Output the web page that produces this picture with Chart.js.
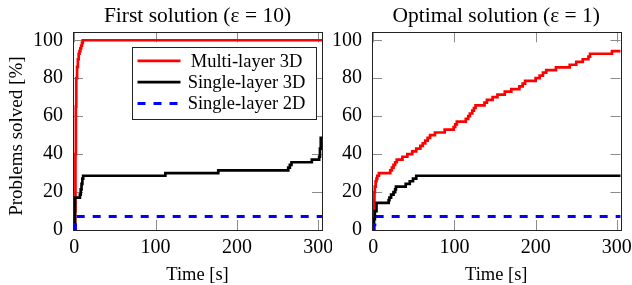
<!DOCTYPE html>
<html lang="en">
<head>
  <meta charset="UTF-8" />
  <title>Problems solved over time</title>
  <script src="https://cdn.jsdelivr.net/npm/chart.js"></script>
  <style>
    body {
      margin: 0;
      background: #fff;
    }
    .wrap {
      position: relative;
      width: 632px;
      height: 285px;
    }
    #chart-first {
      position: absolute;
      left: 0;
      top: 0;
    }
    #chart-optimal {
      position: absolute;
      left: 332px;
      top: 0;
    }
  </style>
</head>
<body>
  <div class="wrap">
    <canvas id="chart-first" width="332" height="285"></canvas>
    <canvas id="chart-optimal" width="300" height="285"></canvas>
  </div>

  <script>
    const xTicks = [0, 100, 200, 300];
    const yTicks = [0, 20, 40, 60, 80, 100];
    const seriesNames = ['Multi-layer 3D', 'Single-layer 3D', 'Single-layer 2D'];

    // first solution (eps = 10) -- [time s, % solved]
    const multi3dFirst = [
      [0, 0], [1, 10], [1.5, 40], [2, 65], [2.5, 80], [3.5, 86], [4.5, 90], [5.5, 92.9],
      [6.5, 94.3], [7.5, 95.7], [8.5, 97.1], [9.5, 98.6], [10.5, 100], [305, 100]
    ];
    const single3dFirst = [
      [0, 0], [1, 17.1], [7, 18.6], [8, 21.4], [9, 24.3], [10, 27.1], [11, 28.6],
      [112, 30.0], [177, 31.4], [263, 32.9], [265, 34.3], [267, 35.7], [292, 37.1],
      [301, 38.6], [302, 42.9], [303, 48.6], [305, 48.6]
    ];
    const single2dFirst = [[0, 0], [1.5, 7.14], [305, 7.14]];

    // optimal solution (eps = 1)
    const multi3dOptimal = [
      [0, 0], [0.5, 8.6], [1, 15.7], [1.5, 20.0], [2, 22.9], [3, 25.7], [4, 27.1], [5, 28.6], [7, 30.0],
      [21, 31.4], [23, 32.9], [25, 34.3], [27, 35.7], [29, 37.1], [36, 38.6], [42, 40.0], [48, 41.4],
      [53, 42.9], [58, 44.3], [61, 45.7], [64, 47.1], [67, 48.6], [70, 50.0], [76, 51.4], [88, 52.9],
      [99, 54.3], [101, 55.7], [103, 57.1], [114, 58.6], [117, 60.0], [119, 61.4], [122, 62.9],
      [124, 64.3], [126, 65.7], [137, 67.1], [140, 68.6], [147, 70.0], [153, 71.4], [162, 72.9],
      [170, 74.3], [180, 75.7], [184, 77.1], [187, 78.6], [200, 80.0], [205, 81.4], [209, 82.9],
      [213, 84.3], [225, 85.7], [242, 87.1], [250, 88.6], [258, 90.0], [265, 91.4], [267, 92.9],
      [294, 94.3], [305, 94.3]
    ];
    const single3dOptimal = [
      [0, 0], [1, 5.7], [2, 10.0], [4, 14.3], [19, 15.7], [20, 17.1], [22, 18.6], [25, 20.0],
      [27, 21.4], [28, 22.9], [40, 24.3], [45, 25.7], [49, 27.1], [53, 28.6], [305, 28.6]
    ];
    const single2dOptimal = [[0, 0], [1, 2.9], [2, 5.7], [3, 7.14], [305, 7.14]];

    const FONT = 'Liberation Serif';

    const toXY = arr => arr.map(p => ({ x: p[0], y: p[1] }));

    // pgfplots look: inward ticks on all four sides plus a closed frame
    const frameTicks = {
      id: 'frameTicks',
      beforeDatasetsDraw(chart) {
        const { ctx, chartArea: a, scales: { x, y } } = chart;
        ctx.save();
        ctx.strokeStyle = '#8c8c8c';
        ctx.lineWidth = 1;
        ctx.beginPath();
        x.ticks.forEach(t => {
          const px = Math.round(x.getPixelForValue(t.value)) + 0.5;
          ctx.moveTo(px, a.bottom); ctx.lineTo(px, a.bottom - 10);
          ctx.moveTo(px, a.top); ctx.lineTo(px, a.top + 10);
        });
        y.ticks.forEach(t => {
          const py = Math.round(y.getPixelForValue(t.value)) + 0.5;
          ctx.moveTo(a.left, py); ctx.lineTo(a.left + 10, py);
          ctx.moveTo(a.right, py); ctx.lineTo(a.right - 10, py);
        });
        ctx.stroke();
        ctx.restore();
      },
      afterDatasetsDraw(chart) {
        const { ctx, chartArea: a } = chart;
        ctx.save();
        ctx.strokeStyle = '#222';
        ctx.lineWidth = 1;
        ctx.strokeRect(Math.round(a.left) + 0.5, Math.round(a.top) + 0.5,
          Math.round(a.right - a.left), Math.round(a.bottom - a.top));
        ctx.restore();
      }
    };

    // rotated y label, placed like the pgfplots ylabel
    const yLabel = {
      id: 'yLabel',
      afterDraw(chart, args, opts) {
        if (!opts.text) return;
        const { ctx, chartArea: a } = chart;
        ctx.save();
        ctx.translate(17, (a.top + a.bottom) / 2 + 5);
        ctx.rotate(-Math.PI / 2);
        ctx.font = '19px "' + FONT + '"';
        ctx.fillStyle = '#000';
        ctx.textAlign = 'center';
        ctx.textBaseline = 'middle';
        ctx.fillText(opts.text, 0, 0);
        ctx.restore();
      }
    };

    // boxed legend in the upper right corner of the plot area
    const boxLegend = {
      id: 'boxLegend',
      afterDatasetsDraw(chart, args, opts) {
        if (!opts.show) return;
        const { ctx, chartArea: a } = chart;
        const w = 184, h = 72, rowH = 21.3;
        const left = Math.round(a.right - 6 - w) + 0.5;
        const top = Math.round(a.top + 15) + 0.5;
        ctx.save();
        ctx.fillStyle = '#fff';
        ctx.fillRect(left, top, w, h);
        ctx.strokeStyle = '#222';
        ctx.lineWidth = 1;
        ctx.strokeRect(left, top, w, h);
        ctx.font = '18.5px "' + FONT + '"';
        ctx.textAlign = 'center';
        ctx.textBaseline = 'middle';
        chart.data.datasets.forEach((ds, i) => {
          const cy = top + 13.4 + i * rowH;
          ctx.strokeStyle = ds.borderColor;
          ctx.lineWidth = ds.borderWidth;
          ctx.setLineDash(ds.borderDash || []);
          ctx.beginPath();
          ctx.moveTo(left + 5, cy);
          ctx.lineTo(left + 48, cy);
          ctx.stroke();
          ctx.setLineDash([]);
          ctx.fillStyle = '#000';
          ctx.fillText(ds.label, left + 114, cy + 1);
        });
        ctx.restore();
      }
    };

    function makeChart(id, title, multi, single3d, single2d, cfg) {
      const ctx = document.getElementById(id).getContext('2d');
      return new Chart(ctx, {
        type: 'line',
        data: {
          datasets: [
            { label: seriesNames[0], data: toXY(multi), borderColor: '#ff0000', borderWidth: 2.7, order: 3 },
            { label: seriesNames[1], data: toXY(single3d), borderColor: '#000000', borderWidth: 2.7, order: 2 },
            { label: seriesNames[2], data: toXY(single2d), borderColor: '#0000ff', borderWidth: 3, borderDash: [8, 8], order: 1 }
          ].map(d => Object.assign(d, { stepped: true, pointRadius: 0, fill: false }))
        },
        options: {
          responsive: false,
          animation: false,
          devicePixelRatio: 1,
          layout: { padding: { left: 0, right: cfg.padRight, top: 0, bottom: 0 } },
          plugins: {
            legend: { display: false },
            tooltip: { enabled: false },
            title: {
              display: true,
              fullSize: false,
              text: title,
              color: '#000',
              font: { family: FONT, size: 21.5, weight: 'normal' },
              padding: { top: 3.5, bottom: 3 }
            },
            yLabel: { text: cfg.yTitle },
            boxLegend: { show: cfg.legend }
          },
          scales: {
            x: {
              type: 'linear',
              min: -1.5,
              max: 304.5,
              afterBuildTicks: s => { s.ticks = xTicks.map(v => ({ value: v })); },
              afterFit: s => { s.height = 55; s.paddingLeft = 0; s.paddingRight = 0; },
              grid: { display: false, drawTicks: false },
              border: { display: false },
              ticks: { color: '#000', padding: 6, font: { family: FONT, size: 20 } },
              title: {
                display: true,
                text: 'Time [s]',
                color: '#000',
                font: { family: FONT, size: 18.5 },
                padding: { top: 0, bottom: -1 }
              }
            },
            y: {
              type: 'linear',
              min: 0,
              max: 104.2,
              afterBuildTicks: s => { s.ticks = yTicks.map(v => ({ value: v })); },
              afterFit: s => { s.width = cfg.yWidth; s.paddingTop = 0; s.paddingBottom = 0; },
              grid: { display: false, drawTicks: false },
              border: { display: false },
              ticks: { color: '#000', padding: 10, font: { family: FONT, size: 20 } }
            }
          }
        },
        plugins: [frameTicks, boxLegend, yLabel]
      });
    }

    makeChart('chart-first', 'First solution (ε = 10)',
      multi3dFirst, single3dFirst, single2dFirst,
      { yWidth: 73, padRight: 10, yTitle: 'Problems solved [%]', legend: true });

    makeChart('chart-optimal', 'Optimal solution (ε = 1)',
      multi3dOptimal, single3dOptimal, single2dOptimal,
      { yWidth: 40, padRight: 11.5, yTitle: '', legend: false });
  </script>
</body>
</html>
